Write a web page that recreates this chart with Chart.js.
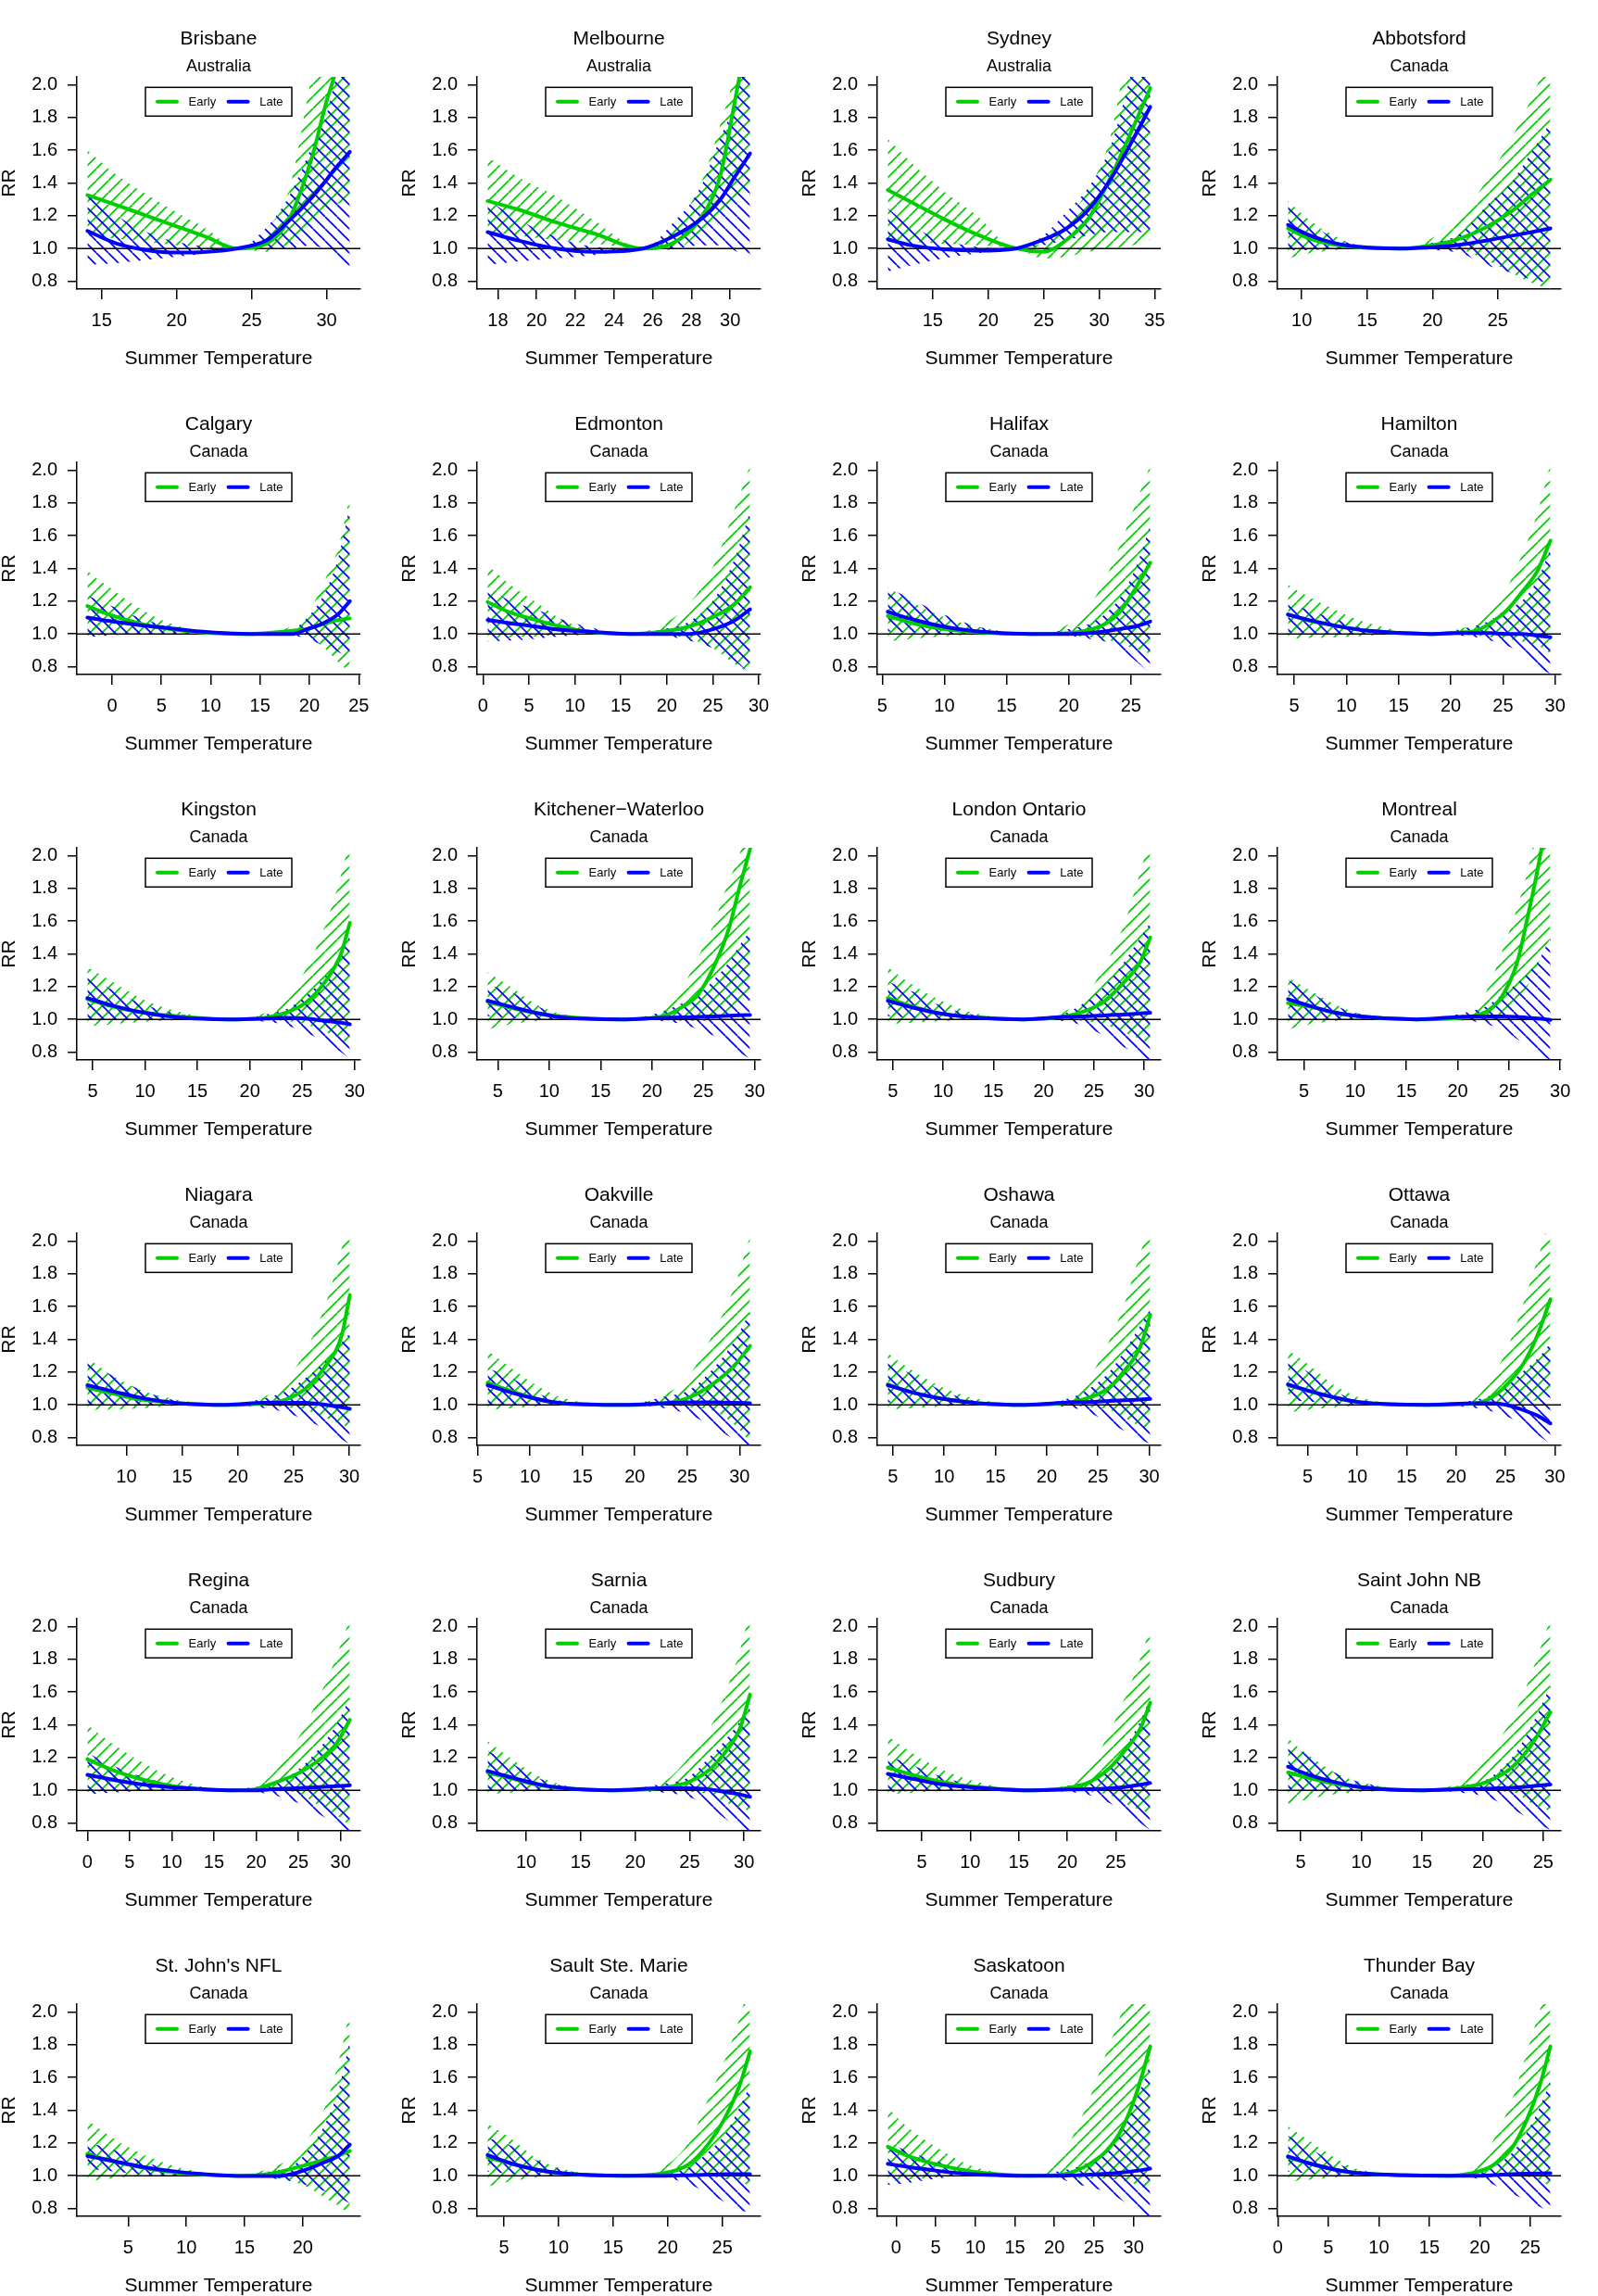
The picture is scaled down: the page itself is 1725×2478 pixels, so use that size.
<!DOCTYPE html>
<html>
<head>
<meta charset="utf-8">
<title>Summer temperature and RR, early vs late period</title>
<script src="https://cdn.jsdelivr.net/npm/chart.js@4.4.1/dist/chart.umd.min.js"></script>
<style>
  html, body { margin: 0; padding: 0; background: #fff; }
  body { width: 1725px; height: 2478px; position: relative; overflow: hidden; }
  .panel { position: absolute; width: 432px; height: 416px; }
</style>
</head>
<body>
<script>
// one entry per panel, in reading order
const cities = ['Brisbane', 'Melbourne', 'Sydney', 'Abbotsford',
  'Calgary', 'Edmonton', 'Halifax', 'Hamilton',
  'Kingston', 'Kitchener\u2212Waterloo', 'London Ontario', 'Montreal',
  'Niagara', 'Oakville', 'Oshawa', 'Ottawa',
  'Regina', 'Sarnia', 'Sudbury', 'Saint John NB',
  "St. John's NFL", 'Sault Ste. Marie', 'Saskatoon', 'Thunder Bay'];
const countries = ['Australia', 'Australia', 'Australia', 'Canada',
  'Canada', 'Canada', 'Canada', 'Canada',
  'Canada', 'Canada', 'Canada', 'Canada',
  'Canada', 'Canada', 'Canada', 'Canada',
  'Canada', 'Canada', 'Canada', 'Canada',
  'Canada', 'Canada', 'Canada', 'Canada'];

const legendLabels = ['Early', 'Late'];
const yTicks = [0.8, 1.0, 1.2, 1.4, 1.6, 1.8, 2.0];
const refRR = 1.0;

const xTicks = [
  [15, 20, 25, 30], [18, 20, 22, 24, 26, 28, 30], [15, 20, 25, 30, 35], [10, 15, 20, 25],
  [0, 5, 10, 15, 20, 25], [0, 5, 10, 15, 20, 25, 30], [5, 10, 15, 20, 25], [5, 10, 15, 20, 25, 30],
  [5, 10, 15, 20, 25, 30], [5, 10, 15, 20, 25, 30], [5, 10, 15, 20, 25, 30], [5, 10, 15, 20, 25, 30],
  [10, 15, 20, 25, 30], [5, 10, 15, 20, 25, 30], [5, 10, 15, 20, 25, 30], [5, 10, 15, 20, 25, 30],
  [0, 5, 10, 15, 20, 25, 30], [10, 15, 20, 25, 30], [5, 10, 15, 20, 25], [5, 10, 15, 20, 25],
  [5, 10, 15, 20], [5, 10, 15, 20, 25], [0, 5, 10, 15, 20, 25, 30], [0, 5, 10, 15, 20, 25]
];

// summer temperatures at which the curves were read
const temps = [
  [14.05, 16, 18, 20, 22, 24, 26, 27.5, 29, 30, 30.5, 31.55],
  [17.47, 19, 21, 23, 25.5, 27, 28.5, 29.5, 30.2, 31.03],
  [10.95, 13, 16, 19, 22.5, 25, 27, 29, 31, 33, 34.6],
  [8.95, 10.5, 12.5, 14.5, 17.5, 20.3, 22.2, 24.1, 26.1, 27.6, 29.03],
  [-2.5, -0.4, 2.7, 5.8, 8.9, 14, 18.3, 19.8, 21.4, 22.9, 24.1],
  [0.5, 3, 5.75, 8.5, 11.3, 16, 19.6, 22.4, 25.1, 27.3, 29.05],
  [5.45, 7.4, 9.9, 12.7, 17, 20, 21.6, 22.9, 24.1, 25.3, 26.55],
  [4.4, 6.2, 9.2, 12.1, 18, 20.9, 22.4, 23.8, 25.3, 26.8, 28.3, 29.55],
  [4.5, 6.9, 9.8, 13.2, 18, 21.5, 23.4, 25.3, 27.3, 28.7, 29.55],
  [4.0, 6.2, 8.7, 11.2, 17, 21, 23, 24.5, 26, 27.5, 28.5, 29.55],
  [4.5, 7, 10, 13.5, 18, 22, 24, 26, 28, 29.6, 30.6],
  [3.45, 5.5, 8, 10.5, 16, 21.35, 22.8, 24.3, 25.8, 26.8, 27.8, 29.05],
  [6.5, 8.7, 11.5, 14.7, 19, 22.4, 24.2, 26, 27.9, 29.3, 30.05],
  [5.95, 8.2, 10.6, 13, 19, 22.8, 25.2, 27.6, 29.5, 31.0],
  [4.5, 6.9, 9.9, 13.3, 18, 22.2, 24.2, 26.1, 27.6, 29.1, 30.1],
  [3.0, 5.2, 7.7, 10.3, 17, 22, 23.6, 25.1, 26.7, 28.2, 29.55],
  [0, 2.95, 6.6, 10.8, 17, 19.8, 21.6, 24.6, 27, 29.5, 31.1],
  [6.45, 8.55, 10.9, 13.2, 18, 22.6, 24.9, 26.8, 28.2, 29.6, 30.55],
  [1.5, 4.06, 7.2, 10.8, 16, 20.2, 22.3, 24.4, 25.9, 27.5, 28.55],
  [3.95, 5.7, 7.8, 9.9, 15, 18.2, 20.3, 22.4, 24.1, 25.6],
  [1.5, 3.3, 5.9, 8.6, 11.2, 14, 16.5, 17.8, 19.1, 20.4, 21.8, 23.1, 24.05],
  [3.5, 5.6, 7.9, 10.3, 16, 19.6, 21.9, 23.8, 25.2, 26.6, 27.55],
  [-1.05, 1.36, 5.2, 9.1, 13, 17, 20.7, 22.7, 24.6, 26.6, 28.5, 30.4, 32.1],
  [1.0, 3.1, 5.6, 8.1, 17, 19.2, 21.2, 23.2, 24.7, 25.95, 27.0]
];

const earlyRR = [
  [1.326, 1.265, 1.2, 1.135, 1.07, 1.0, 1.03, 1.18, 1.55, 1.9, 2.05, 2.5],
  [1.29, 1.24, 1.16, 1.09, 1.0, 1.03, 1.19, 1.45, 1.87, 2.4],
  [1.357, 1.285, 1.18, 1.085, 1.0, 0.98, 1.05, 1.18, 1.43, 1.73, 1.98],
  [1.123, 1.063, 1.024, 1.006, 1.0, 1.024, 1.063, 1.13, 1.23, 1.33, 1.42],
  [1.17, 1.12, 1.065, 1.03, 1.01, 1.0, 1.02, 1.03, 1.06, 1.085, 1.095],
  [1.195, 1.13, 1.085, 1.045, 1.015, 1.0, 1.015, 1.045, 1.105, 1.18, 1.285],
  [1.11, 1.066, 1.03, 1.01, 1.0, 1.005, 1.024, 1.06, 1.135, 1.27, 1.435],
  [1.12, 1.085, 1.047, 1.019, 1.0, 1.01, 1.019, 1.066, 1.14, 1.254, 1.385, 1.57],
  [1.123, 1.078, 1.042, 1.018, 1.0, 1.01, 1.04, 1.1, 1.24, 1.4, 1.59],
  [1.108, 1.072, 1.04, 1.018, 1.0, 1.018, 1.078, 1.153, 1.317, 1.557, 1.8, 2.04],
  [1.13, 1.078, 1.033, 1.012, 1.0, 1.018, 1.048, 1.108, 1.228, 1.35, 1.5],
  [1.1, 1.078, 1.042, 1.018, 1.0, 1.018, 1.048, 1.138, 1.347, 1.617, 1.916, 2.35],
  [1.105, 1.07, 1.03, 1.01, 1.0, 1.01, 1.03, 1.096, 1.24, 1.42, 1.67],
  [1.135, 1.084, 1.036, 1.01, 1.0, 1.01, 1.045, 1.135, 1.24, 1.36],
  [1.125, 1.075, 1.036, 1.01, 1.0, 1.015, 1.045, 1.105, 1.21, 1.35, 1.55],
  [1.12, 1.084, 1.045, 1.015, 1.0, 1.01, 1.045, 1.12, 1.24, 1.42, 1.645],
  [1.19, 1.124, 1.065, 1.02, 1.0, 1.006, 1.035, 1.094, 1.168, 1.285, 1.43],
  [1.109, 1.074, 1.035, 1.015, 1.0, 1.015, 1.05, 1.124, 1.226, 1.374, 1.585],
  [1.138, 1.094, 1.05, 1.02, 1.0, 1.015, 1.05, 1.138, 1.24, 1.374, 1.535],
  [1.109, 1.074, 1.04, 1.02, 1.0, 1.015, 1.05, 1.138, 1.285, 1.476],
  [1.134, 1.096, 1.055, 1.024, 1.008, 1.0, 1.006, 1.02, 1.043, 1.068, 1.096, 1.124, 1.15],
  [1.112, 1.076, 1.038, 1.015, 1.0, 1.015, 1.068, 1.2, 1.347, 1.553, 1.76],
  [1.177, 1.124, 1.068, 1.03, 1.008, 1.0, 1.006, 1.03, 1.077, 1.153, 1.284, 1.51, 1.79],
  [1.112, 1.076, 1.038, 1.015, 1.0, 1.015, 1.059, 1.17, 1.347, 1.553, 1.79]
];

const earlyLow = [
  [1.08, 1.06, 1.04, 1.02, 1.01, 1.0, 0.98, 1.03, 1.12, 1.22, 1.26, 1.3],
  [1.1, 1.08, 1.05, 1.03, 1.0, 0.99, 1.1, 1.2, 1.28, 1.38],
  [1.05, 1.04, 1.03, 1.02, 1.0, 0.94, 0.95, 0.98, 1.0, 1.02, 1.05],
  [0.94, 0.97, 0.99, 1.0, 1.0, 0.995, 0.99, 0.93, 0.85, 0.79, 0.75],
  [0.99, 0.995, 1.0, 1.0, 1.0, 1.0, 1.0, 0.99, 0.92, 0.83, 0.765],
  [0.97, 0.98, 0.985, 0.995, 1.0, 1.0, 0.995, 0.97, 0.91, 0.82, 0.76],
  [0.955, 0.97, 0.985, 0.995, 1.0, 0.99, 0.98, 0.97, 0.94, 0.91, 0.88],
  [0.97, 0.975, 0.98, 0.99, 1.0, 0.995, 0.99, 0.98, 0.97, 0.955, 0.93, 0.88],
  [0.96, 0.97, 0.985, 0.995, 1.0, 0.995, 0.99, 0.97, 0.92, 0.88, 0.84],
  [0.94, 0.97, 0.99, 1.0, 1.0, 0.995, 0.99, 0.99, 1.0, 1.05, 1.09, 1.12],
  [0.97, 0.98, 0.99, 1.0, 1.0, 0.995, 0.99, 0.97, 0.92, 0.88, 0.85],
  [0.94, 0.97, 0.99, 1.0, 1.0, 1.0, 1.0, 1.01, 1.08, 1.2, 1.33, 1.5],
  [0.97, 0.97, 0.98, 0.995, 1.0, 0.995, 0.985, 0.97, 0.92, 0.88, 0.865],
  [0.97, 0.98, 0.99, 1.0, 1.0, 1.0, 0.985, 0.96, 0.88, 0.775],
  [0.97, 0.98, 0.99, 1.0, 1.0, 0.995, 0.985, 0.97, 0.92, 0.87, 0.85],
  [0.955, 0.97, 0.985, 0.995, 1.0, 1.0, 1.0, 1.0, 1.01, 1.03, 1.06],
  [0.99, 0.995, 1.0, 1.0, 1.0, 1.0, 0.995, 0.99, 0.92, 0.85, 0.785],
  [0.976, 0.985, 0.995, 1.0, 1.0, 0.995, 0.99, 0.976, 0.93, 0.89, 0.874],
  [0.976, 0.985, 0.995, 1.0, 1.0, 1.0, 0.99, 0.97, 0.92, 0.88, 0.86],
  [0.918, 0.947, 0.976, 0.99, 1.0, 1.0, 0.995, 0.99, 0.918, 0.874],
  [0.965, 0.983, 0.995, 1.0, 1.0, 1.0, 0.995, 0.985, 0.965, 0.93, 0.87, 0.814, 0.766],
  [0.935, 0.965, 0.99, 1.0, 1.0, 1.0, 1.0, 0.994, 0.98, 0.965, 0.935],
  [0.964, 0.974, 0.99, 1.0, 1.0, 1.0, 0.995, 0.985, 0.983, 0.983, 0.97, 0.945, 0.908],
  [0.965, 0.975, 0.99, 1.0, 1.0, 1.0, 1.0, 1.0, 0.994, 0.97, 0.935]
];

const earlyHigh = [
  [1.6, 1.45, 1.33, 1.22, 1.12, 1.0, 1.12, 1.36, 2.05, 2.45, 2.65, 3.0],
  [1.56, 1.44, 1.32, 1.17, 1.0, 1.12, 1.4, 1.76, 2.05, 2.5],
  [1.67, 1.53, 1.35, 1.2, 1.0, 1.04, 1.17, 1.36, 1.68, 2.4, 2.8],
  [1.29, 1.18, 1.078, 1.018, 1.0, 1.078, 1.2, 1.41, 1.68, 1.92, 2.2],
  [1.385, 1.29, 1.16, 1.066, 1.02, 1.0, 1.05, 1.12, 1.31, 1.52, 1.84],
  [1.42, 1.3, 1.195, 1.09, 1.03, 1.0, 1.06, 1.18, 1.42, 1.75, 2.03],
  [1.285, 1.195, 1.105, 1.045, 1.0, 1.06, 1.165, 1.33, 1.54, 1.78, 2.03],
  [1.3, 1.235, 1.14, 1.066, 1.0, 1.03, 1.07, 1.15, 1.27, 1.48, 1.74, 2.04],
  [1.32, 1.23, 1.123, 1.048, 1.0, 1.04, 1.12, 1.3, 1.59, 1.88, 2.1],
  [1.29, 1.2, 1.093, 1.033, 1.0, 1.05, 1.2, 1.38, 1.58, 1.85, 2.0, 2.3],
  [1.32, 1.21, 1.108, 1.033, 1.0, 1.048, 1.13, 1.32, 1.58, 1.9, 2.1],
  [1.257, 1.18, 1.093, 1.033, 1.0, 1.048, 1.17, 1.41, 1.68, 1.9, 2.2, 2.6],
  [1.285, 1.18, 1.084, 1.03, 1.0, 1.05, 1.14, 1.32, 1.62, 1.95, 2.15],
  [1.33, 1.225, 1.12, 1.045, 1.0, 1.06, 1.18, 1.45, 1.72, 2.03],
  [1.315, 1.21, 1.105, 1.036, 1.0, 1.045, 1.17, 1.39, 1.62, 1.92, 2.1],
  [1.335, 1.24, 1.12, 1.045, 1.0, 1.045, 1.17, 1.33, 1.6, 1.88, 2.15],
  [1.4, 1.285, 1.168, 1.065, 1.0, 1.03, 1.08, 1.285, 1.52, 1.815, 2.05],
  [1.3, 1.197, 1.094, 1.035, 1.0, 1.05, 1.197, 1.37, 1.58, 1.85, 2.1],
  [1.33, 1.226, 1.124, 1.05, 1.0, 1.04, 1.14, 1.36, 1.56, 1.8, 2.0],
  [1.315, 1.212, 1.109, 1.05, 1.0, 1.056, 1.212, 1.432, 1.726, 2.05],
  [1.34, 1.247, 1.143, 1.068, 1.024, 1.0, 1.03, 1.06, 1.115, 1.22, 1.4, 1.7, 2.01],
  [1.318, 1.23, 1.112, 1.044, 1.0, 1.053, 1.2, 1.48, 1.7, 1.965, 2.2],
  [1.416, 1.3, 1.171, 1.068, 1.02, 1.0, 1.1, 1.28, 1.49, 1.755, 2.0, 2.3, 2.6],
  [1.303, 1.215, 1.112, 1.038, 1.0, 1.053, 1.2, 1.465, 1.76, 2.01, 2.2]
];

const lateRR = [
  [1.107, 1.03, 0.99, 0.975, 0.98, 1.0, 1.05, 1.17, 1.31, 1.42, 1.48, 1.59],
  [1.1, 1.05, 1.0, 0.98, 1.0, 1.07, 1.18, 1.3, 1.43, 1.58],
  [1.056, 1.02, 0.995, 0.987, 1.0, 1.055, 1.12, 1.235, 1.42, 1.66, 1.865],
  [1.144, 1.084, 1.033, 1.009, 1.0, 1.01, 1.024, 1.048, 1.078, 1.1, 1.123],
  [1.1, 1.08, 1.055, 1.035, 1.015, 1.0, 1.0, 1.03, 1.065, 1.12, 1.2],
  [1.085, 1.065, 1.045, 1.025, 1.015, 1.0, 1.0, 1.0, 1.03, 1.08, 1.15],
  [1.135, 1.09, 1.045, 1.015, 1.0, 1.0, 1.005, 1.015, 1.03, 1.045, 1.075],
  [1.118, 1.088, 1.047, 1.019, 1.0, 1.005, 1.005, 1.005, 1.0, 1.0, 0.99, 0.98],
  [1.13, 1.084, 1.042, 1.012, 1.0, 1.005, 1.01, 1.005, 0.99, 0.98, 0.97],
  [1.114, 1.078, 1.04, 1.012, 1.0, 1.01, 1.012, 1.015, 1.018, 1.022, 1.025, 1.027],
  [1.114, 1.072, 1.033, 1.01, 1.0, 1.015, 1.018, 1.024, 1.03, 1.036, 1.04],
  [1.123, 1.084, 1.042, 1.018, 1.0, 1.018, 1.018, 1.018, 1.015, 1.01, 1.005, 0.997],
  [1.12, 1.084, 1.04, 1.01, 1.0, 1.012, 1.012, 1.012, 1.0, 0.985, 0.976],
  [1.12, 1.075, 1.036, 1.01, 1.0, 1.01, 1.015, 1.015, 1.012, 1.01],
  [1.12, 1.075, 1.036, 1.01, 1.0, 1.015, 1.018, 1.024, 1.028, 1.032, 1.036],
  [1.125, 1.084, 1.045, 1.015, 1.0, 1.01, 1.01, 1.0, 0.97, 0.935, 0.886],
  [1.094, 1.065, 1.035, 1.015, 1.0, 1.0, 1.005, 1.012, 1.018, 1.025, 1.03],
  [1.118, 1.08, 1.04, 1.015, 1.0, 1.012, 1.012, 1.005, 0.99, 0.975, 0.96],
  [1.1, 1.07, 1.035, 1.015, 1.0, 1.005, 1.006, 1.012, 1.02, 1.033, 1.044],
  [1.144, 1.094, 1.05, 1.02, 1.0, 1.006, 1.01, 1.015, 1.025, 1.035],
  [1.12, 1.096, 1.058, 1.03, 1.011, 1.0, 0.998, 0.998, 1.011, 1.04, 1.08, 1.124, 1.19],
  [1.126, 1.076, 1.038, 1.015, 1.0, 1.0, 1.003, 1.006, 1.009, 1.009, 1.009],
  [1.073, 1.055, 1.03, 1.011, 1.003, 1.0, 1.0, 1.003, 1.006, 1.012, 1.02, 1.03, 1.043],
  [1.118, 1.076, 1.038, 1.015, 1.0, 1.0, 1.003, 1.009, 1.012, 1.014, 1.015]
];

const lateLow = [
  [0.9, 0.91, 0.93, 0.95, 0.97, 1.0, 1.0, 1.0, 1.02, 0.99, 0.96, 0.89],
  [0.9, 0.92, 0.94, 0.96, 1.0, 1.0, 1.02, 1.02, 0.99, 0.93],
  [0.86, 0.895, 0.94, 0.97, 1.0, 1.02, 1.05, 1.08, 1.1, 1.1, 1.1],
  [0.99, 0.99, 1.0, 1.0, 1.0, 0.99, 0.97, 0.9, 0.85, 0.81, 0.79],
  [0.98, 0.99, 1.0, 1.0, 1.0, 1.0, 0.99, 0.97, 0.93, 0.89, 0.85],
  [0.955, 0.96, 0.97, 0.985, 0.995, 1.0, 0.99, 0.96, 0.91, 0.835, 0.76],
  [1.015, 1.01, 1.0, 1.0, 1.0, 0.99, 0.97, 0.955, 0.91, 0.84, 0.76],
  [1.01, 1.005, 1.0, 1.0, 1.0, 0.99, 0.98, 0.96, 0.93, 0.88, 0.8, 0.755],
  [1.0, 1.0, 1.0, 1.0, 1.0, 0.985, 0.965, 0.92, 0.86, 0.8, 0.76],
  [1.02, 1.01, 1.0, 1.0, 1.0, 0.99, 0.97, 0.94, 0.9, 0.85, 0.8, 0.76],
  [1.02, 1.01, 1.0, 1.0, 1.0, 0.99, 0.96, 0.9, 0.83, 0.78, 0.75],
  [1.0, 1.0, 1.0, 1.0, 1.0, 0.99, 0.97, 0.94, 0.88, 0.84, 0.8, 0.75],
  [1.0, 1.0, 1.0, 1.0, 1.0, 0.98, 0.955, 0.91, 0.85, 0.79, 0.76],
  [1.0, 1.0, 1.0, 1.0, 1.0, 0.98, 0.94, 0.86, 0.79, 0.745],
  [1.015, 1.01, 1.0, 1.0, 1.0, 0.985, 0.95, 0.89, 0.84, 0.79, 0.76],
  [1.03, 1.02, 1.01, 1.0, 1.0, 0.98, 0.96, 0.93, 0.88, 0.82, 0.76],
  [0.976, 0.985, 0.995, 1.0, 1.0, 0.99, 0.975, 0.93, 0.87, 0.79, 0.75],
  [1.0, 1.0, 1.0, 1.0, 1.0, 0.985, 0.96, 0.9, 0.83, 0.77, 0.74],
  [0.99, 0.995, 1.0, 1.0, 1.0, 0.99, 0.97, 0.92, 0.86, 0.8, 0.756],
  [1.006, 1.003, 1.0, 1.0, 1.0, 0.985, 0.96, 0.888, 0.815, 0.756],
  [1.04, 1.03, 1.01, 1.0, 1.0, 1.0, 0.99, 0.98, 0.965, 0.94, 0.907, 0.87, 0.83],
  [1.024, 1.012, 1.0, 1.0, 1.0, 0.99, 0.95, 0.89, 0.84, 0.79, 0.775],
  [0.945, 0.955, 0.983, 1.0, 1.0, 1.0, 0.98, 0.95, 0.927, 0.9, 0.851, 0.785, 0.748],
  [1.024, 1.015, 1.005, 1.0, 1.0, 0.99, 0.95, 0.89, 0.845, 0.81, 0.774]
];

const lateHigh = [
  [1.33, 1.2, 1.1, 1.04, 1.01, 1.0, 1.13, 1.32, 1.62, 1.82, 2.0, 2.3],
  [1.3, 1.18, 1.07, 1.01, 1.0, 1.15, 1.38, 1.68, 1.88, 2.3],
  [1.245, 1.14, 1.05, 1.01, 1.0, 1.08, 1.22, 1.37, 1.62, 2.1, 2.5],
  [1.29, 1.17, 1.063, 1.02, 1.0, 1.04, 1.093, 1.257, 1.41, 1.59, 1.77],
  [1.235, 1.18, 1.1, 1.047, 1.015, 1.0, 1.03, 1.1, 1.235, 1.46, 1.78],
  [1.285, 1.2, 1.15, 1.09, 1.045, 1.0, 1.03, 1.075, 1.21, 1.45, 1.75],
  [1.285, 1.21, 1.12, 1.045, 1.0, 1.03, 1.06, 1.12, 1.22, 1.39, 1.66],
  [1.18, 1.15, 1.085, 1.028, 1.0, 1.03, 1.05, 1.085, 1.15, 1.2, 1.33, 1.52],
  [1.26, 1.18, 1.093, 1.033, 1.0, 1.03, 1.06, 1.14, 1.27, 1.4, 1.51],
  [1.21, 1.17, 1.084, 1.027, 1.0, 1.048, 1.1, 1.15, 1.24, 1.35, 1.45, 1.54],
  [1.23, 1.17, 1.078, 1.024, 1.0, 1.035, 1.1, 1.2, 1.35, 1.5, 1.59],
  [1.24, 1.17, 1.084, 1.033, 1.0, 1.05, 1.08, 1.15, 1.22, 1.28, 1.35, 1.5],
  [1.255, 1.18, 1.084, 1.024, 1.0, 1.04, 1.08, 1.16, 1.27, 1.38, 1.435],
  [1.225, 1.165, 1.075, 1.024, 1.0, 1.05, 1.09, 1.23, 1.39, 1.57],
  [1.255, 1.185, 1.084, 1.02, 1.0, 1.04, 1.1, 1.2, 1.33, 1.48, 1.585],
  [1.27, 1.195, 1.084, 1.024, 1.0, 1.03, 1.06, 1.12, 1.2, 1.28, 1.375],
  [1.227, 1.153, 1.08, 1.03, 1.0, 1.02, 1.03, 1.11, 1.227, 1.4, 1.565],
  [1.24, 1.168, 1.08, 1.03, 1.0, 1.04, 1.08, 1.2, 1.3, 1.42, 1.505],
  [1.21, 1.153, 1.08, 1.026, 1.0, 1.03, 1.06, 1.15, 1.26, 1.42, 1.565],
  [1.27, 1.212, 1.109, 1.05, 1.0, 1.03, 1.065, 1.197, 1.403, 1.638],
  [1.2, 1.17, 1.096, 1.04, 1.01, 1.0, 1.02, 1.035, 1.058, 1.15, 1.3, 1.53, 1.83],
  [1.23, 1.185, 1.097, 1.038, 1.0, 1.02, 1.053, 1.15, 1.25, 1.42, 1.553],
  [1.2, 1.153, 1.087, 1.03, 1.008, 1.0, 1.03, 1.05, 1.09, 1.16, 1.27, 1.47, 1.68],
  [1.244, 1.17, 1.082, 1.03, 1.0, 1.02, 1.053, 1.14, 1.27, 1.42, 1.582]
];

const GREEN = '#00CD00';
const BLUE = '#0000FF';
const FONT = '"Liberation Sans", Arial, Helvetica, sans-serif';

Chart.defaults.font.family = FONT;
Chart.defaults.color = '#000';

// diagonal hatch like R's polygon(density=, angle=)
function hatch(ctx, color, up) {
  const s = 13;
  const tile = document.createElement('canvas');
  tile.width = s; tile.height = s;
  const g = tile.getContext('2d');
  g.strokeStyle = color;
  g.lineWidth = 1.7;
  g.beginPath();
  for (let k = -1; k <= 1; k++) {
    if (up) { g.moveTo(k * s, s); g.lineTo(k * s + s, 0); }
    else { g.moveTo(k * s, 0); g.lineTo(k * s + s, s); }
  }
  g.stroke();
  return ctx.createPattern(tile, 'repeat');
}

// boxed legend inside the top of the plot, as R's legend("top")
const boxLegend = {
  id: 'boxLegend',
  afterDatasetsDraw(chart) {
    const { ctx, chartArea } = chart;
    const items = legendLabels.map(l => chart.data.datasets.find(d => d.label === l));
    const w = 158, h = 31;
    const x0 = (chartArea.left + chartArea.right) / 2 - w / 2;
    const y0 = chartArea.top + 11.3;
    const ym = y0 + h / 2;
    ctx.save();
    ctx.fillStyle = '#fff';
    ctx.fillRect(x0, y0, w, h);
    ctx.strokeStyle = '#000';
    ctx.lineWidth = 1.5;
    ctx.strokeRect(x0, y0, w, h);
    ctx.font = '13px ' + FONT;
    ctx.textBaseline = 'middle';
    items.forEach((d, k) => {
      const lx = x0 + 11 + k * 76.6;
      ctx.strokeStyle = d.borderColor;
      ctx.lineWidth = 4;
      ctx.lineCap = 'round';
      ctx.beginPath();
      ctx.moveTo(lx + 2, ym);
      ctx.lineTo(lx + 23, ym);
      ctx.stroke();
      ctx.fillStyle = '#000';
      ctx.fillText(d.label, lx + 35.6, ym + 0.5);
    });
    ctx.restore();
  }
};

function pts(t, v) {
  return t.map((x, i) => ({ x: x, y: v[i] }));
}

cities.forEach((city, i) => {
  const div = document.createElement('div');
  div.className = 'panel';
  div.style.left = (i % 4) * 432 + 'px';
  div.style.top = Math.floor(i / 4) * 416 + 'px';
  const cv = document.createElement('canvas');
  cv.width = 432;
  cv.height = 416;
  div.appendChild(cv);
  document.body.appendChild(div);
  const ctx = cv.getContext('2d');

  const t = temps[i];
  const lo = Math.min(...t), hi = Math.max(...t);
  const xMin = lo - 0.04 * (hi - lo), xMax = hi + 0.04 * (hi - lo);
  const yMin = yTicks[0] - 0.04 * (yTicks[yTicks.length - 1] - yTicks[0]);
  const yMax = yTicks[yTicks.length - 1] + 0.04 * (yTicks[yTicks.length - 1] - yTicks[0]);

  const band = { borderColor: 'transparent', borderWidth: 0, pointRadius: 0 };

  new Chart(cv, {
    type: 'line',
    data: {
      datasets: [
        { label: 'Late', data: pts(t, lateRR[i]), borderColor: BLUE, borderWidth: 4, order: 0 },
        { label: 'Early', data: pts(t, earlyRR[i]), borderColor: GREEN, borderWidth: 4, order: 1 },
        { label: 'ref', data: [{ x: xMin, y: refRR }, { x: xMax, y: refRR }],
          borderColor: '#000', borderWidth: 1.5, order: 2 },
        Object.assign({ label: 'Late high', data: pts(t, lateHigh[i]), fill: '+1',
          backgroundColor: hatch(ctx, BLUE, false), order: 3 }, band),
        Object.assign({ label: 'Late low', data: pts(t, lateLow[i]), fill: false, order: 3 }, band),
        Object.assign({ label: 'Early high', data: pts(t, earlyHigh[i]), fill: '+1',
          backgroundColor: hatch(ctx, GREEN, true), order: 4 }, band),
        Object.assign({ label: 'Early low', data: pts(t, earlyLow[i]), fill: false, order: 4 }, band)
      ]
    },
    options: {
      responsive: false,
      animation: false,
      events: [],
      layout: { padding: { left: 0, right: 43, top: 0, bottom: 0 } },
      elements: {
        point: { radius: 0 },
        line: { cubicInterpolationMode: 'monotone', borderCapStyle: 'round', borderJoinStyle: 'round' }
      },
      plugins: {
        legend: { display: false },
        tooltip: { enabled: false },
        title: { display: true, text: city, fullSize: false,
          font: { size: 21, weight: 'normal' }, padding: { top: 29.4, bottom: 0 } },
        subtitle: { display: true, text: countries[i], fullSize: false,
          font: { size: 18 }, padding: { top: 6.6, bottom: 0.2 } }
      },
      scales: {
        x: {
          type: 'linear', min: xMin, max: xMax,
          afterBuildTicks: s => { s.ticks = xTicks[i].map(v => ({ value: v })); },
          afterFit: s => { s.height = 104; },
          grid: { drawOnChartArea: false, drawTicks: true, tickLength: 11, color: '#000', lineWidth: 1.5 },
          border: { display: true, color: '#000', width: 1.5 },
          ticks: { padding: 11, font: { size: 20 }, maxRotation: 0, minRotation: 0, autoSkip: false,
            callback: v => String(v) },
          title: { display: true, text: 'Summer Temperature', font: { size: 21 },
            padding: { top: 0, bottom: 16.4 } }
        },
        y: {
          type: 'linear', min: yMin, max: yMax,
          afterBuildTicks: s => { s.ticks = yTicks.map(v => ({ value: v })); },
          afterFit: s => { s.width = 83; },
          grid: { drawOnChartArea: false, drawTicks: true, tickLength: 10, color: '#000', lineWidth: 1.5 },
          border: { display: true, color: '#000', width: 1.5 },
          ticks: { padding: 11, font: { size: 20 }, autoSkip: false, callback: v => v.toFixed(1) },
          title: { display: true, text: 'RR', font: { size: 21, lineHeight: 0.95 },
            padding: { top: 0, bottom: 0 } }
        }
      }
    },
    plugins: [boxLegend]
  });
});
</script>
</body>
</html>
